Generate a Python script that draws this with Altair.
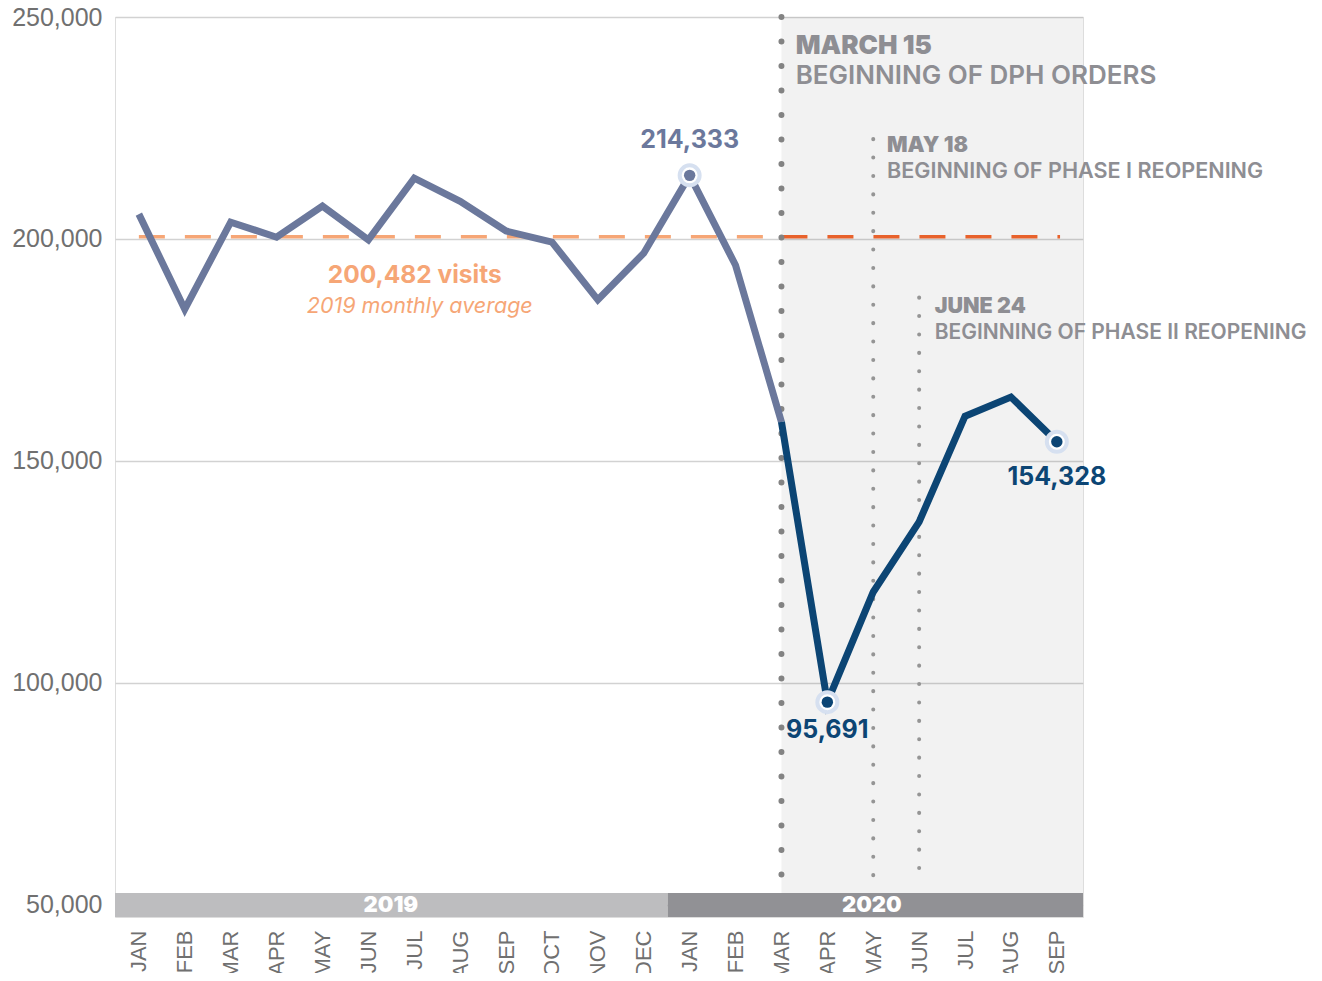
import altair as alt
import pandas as pd

# ---- data ----
month_labels = ["JAN", "FEB", "MAR", "APR", "MAY", "JUN", "JUL", "AUG", "SEP", "OCT", "NOV", "DEC",
                "JAN", "FEB", "MAR", "APR", "MAY", "JUN", "JUL", "AUG", "SEP"]
visits = [205600, 184200, 203800, 200400, 207400, 199800, 213700, 208500, 201800, 199300, 186300, 196800,
          214333, 194100, 158800, 95691, 120500, 136300, 160100, 164400, 154328]
pre_idx = list(range(0, 15))      # Jan 2019 .. Mar 2020
post_idx = list(range(14, 21))    # Mar 2020 .. Sep 2020
avg_2019 = 200482
highlight_idx = [12, 15, 20]

years = ["2019", "2020"]
year_start = [-0.52, 11.52]
year_end = [11.52, 20.57]
year_mid = [5.49, 15.97]

events_idx = [14, 16, 17]
events_top = [250000, 222500, 186800]

X_DOMAIN = [-0.52, 20.57]
Y_DOMAIN = [47297, 250000]
BAND_LO, BAND_HI = 47297, 52703

SLATE = "#6b789c"
NAVY = "#0c4574"
ORANGE_L = "#f6a676"
ORANGE_D = "#e8622c"
GREY_TXT = "#8e8e93"
FONT = "Inter"

df = pd.DataFrame({"i": list(range(21)), "v": visits, "m": month_labels})
pre = df[df.i.isin(pre_idx)]
post = df[df.i.isin(post_idx)]
hi = df[df.i.isin(highlight_idx)]

label_array = "[" + ",".join("'%s'" % m for m in month_labels) + "]"

xs = alt.Scale(domain=X_DOMAIN, nice=False, zero=False)
ys = alt.Scale(domain=Y_DOMAIN, nice=False, zero=False)

x_axis = alt.Axis(values=list(range(21)), labelExpr=label_array + "[datum.value]", labelAngle=-90,
                  labelFontSize=22, labelColor="#707070", labelFont="Liberation Sans", labelPadding=13,
                  domain=False, ticks=False, grid=False, title=None, labelOverlap=False)
y_axis = alt.Axis(values=[50000, 100000, 150000, 200000, 250000], format=",d", labelFontSize=25,
                  labelColor="#707070", labelFont="Liberation Sans", labelPadding=13, domain=False,
                  ticks=False, grid=True, gridColor="#d2d2d2", gridWidth=1.5, title=None,
                  labelOverlap=False)


def X(f="i"):
    return alt.X(f"{f}:Q", scale=xs, axis=x_axis)


def Y(f="v"):
    return alt.Y(f"{f}:Q", scale=ys, axis=y_axis)


# shaded covid region (translucent so the grid shows through)
shade = alt.Chart(pd.DataFrame({"a": [14], "b": [X_DOMAIN[1]], "lo": [BAND_HI], "hi": [250000]})).mark_rect(
    color="black", opacity=0.052).encode(x=X("a"), x2="b:Q", y=Y("lo"), y2="hi:Q")

# average dashed line, two tones
avg_df = pd.DataFrame({"a": [0, 14], "b": [14, 20.07], "v": [avg_2019, avg_2019], "c": [ORANGE_L, ORANGE_D]})
avg = alt.Chart(avg_df).mark_rule(strokeWidth=3.5, strokeDash=[26, 20]).encode(
    x=X("a"), x2="b:Q", y=Y("v"), color=alt.Color("c:N", scale=None))

# dotted event lines
ev_df = pd.DataFrame({"i": events_idx, "top": events_top, "bot": [BAND_HI + 1800] * 3})
ev_big = alt.Chart(ev_df.iloc[[0]]).mark_rule(strokeWidth=6, strokeDash=[0.1, 24.4], strokeCap="round",
                                               color="#838383").encode(x=X(), y=Y("top"), y2="bot:Q")
ev_small = alt.Chart(ev_df.iloc[1:]).mark_rule(strokeWidth=4, strokeDash=[0.1, 18.3], strokeCap="round",
                                                color="#959595").encode(x=X(), y=Y("top"), y2="bot:Q")

line_pre = alt.Chart(pre).mark_line(color=SLATE, strokeWidth=7, strokeJoin="miter").encode(x=X(), y=Y())
line_post = alt.Chart(post).mark_line(color=NAVY, strokeWidth=7, strokeJoin="miter").encode(x=X(), y=Y())

halo = alt.Chart(hi).mark_point(filled=True, fill="white", stroke="#d6e0f0", strokeWidth=4, size=400,
                                opacity=1).encode(x=X(), y=Y())
dots = alt.Chart(hi).mark_point(filled=True, size=130, opacity=1).encode(
    x=X(), y=Y(), color=alt.Color("c:N", scale=None)).transform_calculate(
    c=f"datum.i < 14 ? '{SLATE}' : '{NAVY}'")

# value labels
val_df = pd.DataFrame({"i": [12, 15, 20], "y": [222300, 89400, 146400],
                       "t": ["214,333", "95,691", "154,328"], "c": [SLATE, NAVY, NAVY]})
val_txt = alt.Chart(val_df).mark_text(font=FONT, fontSize=25, fontWeight="bold", baseline="middle").encode(
    x=X(), y=Y("y"), text="t:N", color=alt.Color("c:N", scale=None))

avg_txt1 = alt.Chart(pd.DataFrame({"i": [6.01], "y": [191700], "t": ["200,482 visits"]})).mark_text(
    font=FONT, fontSize=24.5, fontWeight="bold", color=ORANGE_L, baseline="middle").encode(
    x=X(), y=Y("y"), text="t:N")
avg_txt2 = alt.Chart(pd.DataFrame({"i": [6.12], "y": [184700], "t": ["2019 monthly average"]})).mark_text(
    font=FONT, fontSize=21.5, fontStyle="italic", color=ORANGE_L, baseline="middle").encode(
    x=X(), y=Y("y"), text="t:N")

# event annotations
ann_b = pd.DataFrame({"i": [14.31, 16.3, 17.34], "y": [243500, 220950, 184700],
                      "t": ["MARCH 15", "MAY 18", "JUNE 24"], "s": [26, 21.5, 21.5]})
ann_r = pd.DataFrame({"i": [14.31, 16.3, 17.34], "y": [236700, 215090, 178830],
                      "t": ["BEGINNING OF DPH ORDERS", "BEGINNING OF PHASE I REOPENING",
                            "BEGINNING OF PHASE II REOPENING"], "s": [26, 21.6, 21.0]})
ann1 = alt.Chart(ann_b).mark_text(font=FONT, fontWeight=900, color=GREY_TXT, align="left",
                                  baseline="middle").encode(
    x=X(), y=Y("y"), text="t:N", size=alt.Size("s:Q", scale=None, legend=None))
ann2 = alt.Chart(ann_r).mark_text(font=FONT, fontWeight=600, color=GREY_TXT, align="left",
                                  baseline="middle").encode(
    x=X(), y=Y("y"), text="t:N", size=alt.Size("s:Q", scale=None, legend=None))

# year band
yr_df = pd.DataFrame({"yr": years, "a": year_start, "b": year_end, "m": year_mid,
                      "lo": [BAND_LO] * 2, "hi": [BAND_HI] * 2, "mid": [(BAND_LO + BAND_HI) / 2] * 2,
                      "c": ["#bdbdbf", "#919195"]})
yr_rect = alt.Chart(yr_df).mark_rect().encode(x=X("a"), x2="b:Q", y=Y("lo"), y2="hi:Q",
                                              color=alt.Color("c:N", scale=None))
yr_txt = alt.Chart(yr_df).mark_text(font=FONT, fontSize=22, fontWeight=900, color="white",
                                    baseline="middle").encode(x=X("m"), y=Y("mid"), text="yr:N")

chart = alt.layer(shade, avg, ev_big, ev_small, line_pre, line_post, halo, dots, val_txt,
                  avg_txt1, avg_txt2, ann1, ann2, yr_rect, yr_txt).properties(
    width=968, height=900,
    autosize=alt.AutoSizeParams(type="none"),
    padding={"left": 107, "top": 9, "right": 231, "bottom": 56},
).configure_view(stroke="#f1f1f1", strokeWidth=1).configure(background="white")

chart.save("out.html", embed_options={"renderer": "svg", "actions": False})
